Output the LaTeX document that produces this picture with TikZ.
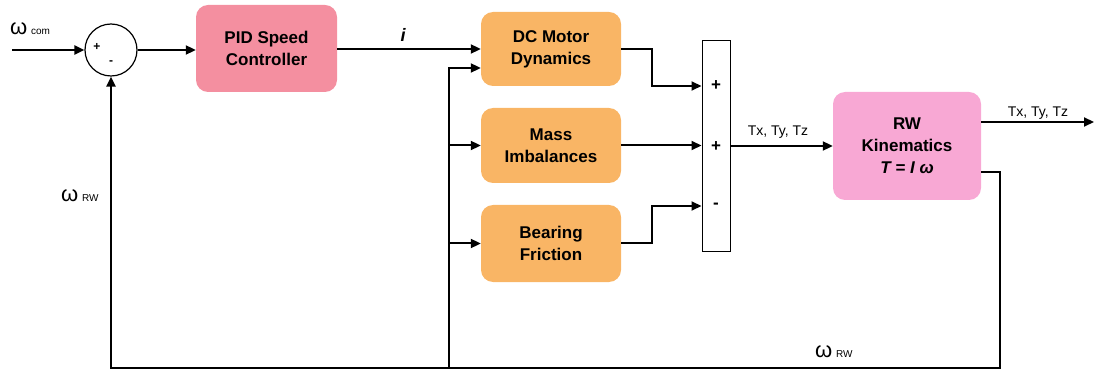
\documentclass[tikz,border=0pt]{standalone}
\usepackage{fontspec}
\setmainfont{Liberation Sans}
\usetikzlibrary{arrows.meta,calc}
\definecolor{pidc}{RGB}{244,143,160}
\definecolor{orc}{RGB}{249,181,101}
\definecolor{rwc}{RGB}{248,168,212}
\tikzset{
  blk/.style={rounded corners=12pt,inner sep=0pt,align=center,font=\fontsize{17}{22}\selectfont\bfseries},
  orblk/.style={blk,fill=orc,minimum width=140pt,minimum height=75pt},
  wire/.style={line width=2pt},
  arr/.style={wire,-{Triangle[length=10pt,width=9pt]}},
  sgn/.style={font=\fontsize{17}{17}\selectfont\bfseries,inner sep=0pt},
  lbl/.style={font=\fontsize{14}{14}\selectfont,inner sep=0pt},
}
\begin{document}
\begin{tikzpicture}[x=1pt,y=-1pt]
\useasboundingbox (0,0) rectangle (1094,371);
% summing junction
\node[circle,draw,line width=1.2pt,minimum size=52pt,inner sep=0pt] (sum) at (111,50) {};
\node[font=\fontsize{12}{12}\selectfont\bfseries,inner sep=0pt] (sp) at (97,47) {+};
\node[font=\fontsize{12}{12}\selectfont\bfseries,inner sep=0pt] (sm) at (111,63) {-};
% blocks
\node[blk,fill=pidc,minimum width=141pt,minimum height=87pt] (pid) at (266.5,48.5) {PID Speed\\Controller};
\node[orblk,minimum height=74pt] (dc) at (551,49) {DC Motor\\Dynamics};
\node[orblk] (mass) at (551,145.5) {Mass\\Imbalances};
\node[orblk,minimum height=77pt] (bear) at (551,243.5) {Bearing\\Friction};
\node[draw,line width=1pt,minimum width=28pt,minimum height=211pt,inner sep=0pt] (bar) at (716,146.5) {};
\node[sgn] (s1) at (716,86) {+};
\node[sgn] (s2) at (716,147) {+};
\node[sgn] (s3) at (716,206) {-};
\node[blk,fill=rwc,minimum width=148pt,minimum height=108pt] (rw) at (907,146) {RW\\Kinematics\\\textit{T = I ω}};
% coordinates
\coordinate (in) at (12,50);
\coordinate (out) at (1094,122);
\coordinate (busTop) at (449,68);
\coordinate (busBot) at (449,368);
\coordinate (r1) at (1000,172);
\coordinate (j1) at (652,49);
\coordinate (j3) at (652,243.5);
% connectors
\draw[arr] (in) -- (sum.west);
\draw[arr] (sum.east) -- (pid.west |- sum.east);
\draw[arr] (pid.east |- dc.west) -- (dc.west);
\draw[arr] (busBot) -- (busTop) -- (dc.west |- busTop);
\draw[arr] (busTop |- mass.west) -- (mass.west);
\draw[arr] (busTop |- bear.west) -- (bear.west);
\draw[arr] (dc.east) -- (j1) |- (bar.west |- s1);
\draw[arr] (mass.east) -- (bar.west |- mass.east);
\draw[arr] (bear.east) -- (j3) |- (bar.west |- s3);
\draw[arr] (bar.east |- rw.west) -- (rw.west);
\draw[arr] (rw.east |- out) -- (out);
\draw[arr] (rw.east |- r1) -- (r1) -- (r1 |- busBot) -- (sum.south |- busBot) -- (sum.south);
% labels
\node[anchor=base west,inner sep=0pt] (wcom) at (10,35) {\fontsize{22}{22}\selectfont ω\,\fontsize{10}{10}\selectfont com};
\node[anchor=base west,inner sep=0pt] (wrw1) at (61,202) {\fontsize{22}{22}\selectfont ω\,\fontsize{10}{10}\selectfont RW};
\node[anchor=base west,inner sep=0pt] (wrw2) at (815,357) {\fontsize{22}{22}\selectfont ω\,\fontsize{10}{10}\selectfont RW};
\node[font=\fontsize{18}{18}\selectfont\itshape\bfseries,inner sep=0pt] (il) at (403,35) {i};
\node[lbl,anchor=base] (t1) at (778,136) {Tx, Ty, Tz};
\node[lbl,anchor=base] (t2) at (1038,117) {Tx, Ty, Tz};
\end{tikzpicture}
\end{document}
